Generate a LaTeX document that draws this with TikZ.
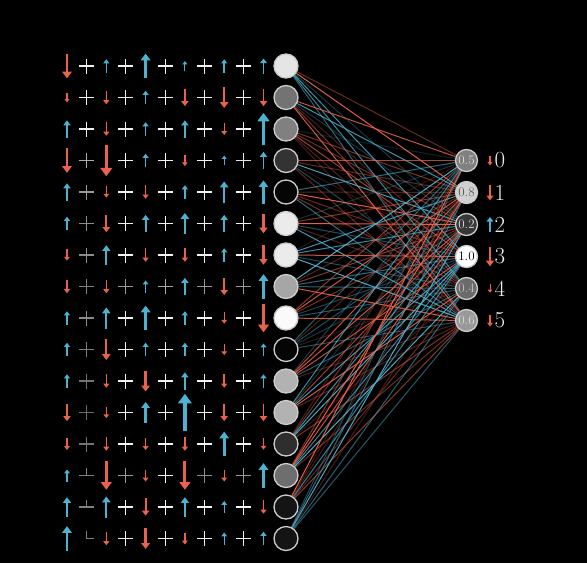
\documentclass[tikz,border=0pt]{standalone}
\usepackage{tikz}
\usetikzlibrary{arrows.meta}
\definecolor{spinred}{RGB}{232,98,76}
\definecolor{spinblue}{RGB}{76,178,207}
\tikzstyle{neuron} = [circle, draw=white!80!black, line width=1.3pt, minimum size=24pt, inner sep=0pt]
\tikzstyle{outneuron} = [neuron, minimum size=22pt, font=\fontsize{13}{13}\selectfont]
\tikzstyle{digit} = [text=white!92!black, font=\fontsize{23}{23}\selectfont, inner sep=0pt]
\tikzstyle{cross} = [line width=1.15pt]
\tikzstyle{wire} = [line width=1pt]
\pgfdeclarelayer{bg}
\pgfdeclarelayer{wires}
\pgfsetlayers{bg,wires,main}
\newcommand{\spinarrow}[3]{%
  \pgfmathsetmacro{\spinabs}{abs(#3)}%
  \pgfmathsetmacro{\spinlen}{3+3.75*\spinabs}%
  \pgfmathsetmacro{\spinwd}{0.7+0.8*\spinabs}%
  \pgfmathsetmacro{\tiplen}{2.5+1.7*\spinabs}%
  \pgfmathsetmacro{\tipwd}{3.8+2.3*\spinabs}%
  \ifdim #3pt>0pt
    \draw[spinblue, line width=\spinwd pt, -{Triangle[length=\tiplen pt, width=\tipwd pt]}] (#1,#2+\spinlen) -- (#1,#2-\spinlen);
  \else
    \draw[spinred, line width=\spinwd pt, -{Triangle[length=\tiplen pt, width=\tipwd pt]}] (#1,#2-\spinlen) -- (#1,#2+\spinlen);
  \fi}
\begin{document}
\begin{tikzpicture}[x=1pt, y=-1pt, node distance=31.5pt]
    \begin{pgfonlayer}{bg}
        \fill[black] (0,0) rectangle (587,563);
    \end{pgfonlayer}

    \node (in1) [neuron, fill=white!90!black] at (286,66) {};
    \foreach \g [count=\i from 2] in {45,50,20,2,92,92,65,98,2,70,70,18,43,8,8} {
        \pgfmathtruncatemacro{\p}{\i-1}
        \node (in\i) [neuron, fill=white!\g!black, below of=in\p] {};
    }

    \begin{scope}[node distance=32pt]
        \node (out0) [outneuron, fill=white!50!black, text=white!85!black] at (466.5,160.5) {0.5};
        \node (out1) [outneuron, fill=white!82!black, text=black!65, below of=out0] {0.8};
        \node (out2) [outneuron, fill=white!22!black, text=white!85!black, below of=out1] {0.2};
        \node (out3) [outneuron, fill=white, text=black, below of=out2] {1.0};
        \node (out4) [outneuron, fill=white!42!black, text=white!75!black, below of=out3] {0.4};
        \node (out5) [outneuron, fill=white!60!black, text=white!85!black, below of=out4] {0.6};
    \end{scope}

    \foreach \m [count=\j from 0] in {-0.5,-1.3,1.2,-1.8,-0.3,-0.8} {
        \spinarrow{490}{160.5+32*\j}{\m}
        \node (d\j) [digit, right of=out\j, node distance=33.5pt] {\j};
    }

    \foreach \r/\spins/\grays in {
        1/{-2.5,1,2.5,0.5,1,1.2}/{95,95,95,95,95},
        2/{-0.5,-1,1,-1.5,-2,-1.5}/{95,95,95,95,95},
        3/{1.5,-1,1,1.5,-0.8,3.5}/{95,95,95,95,95},
        4/{-2.5,-3.4,1,-0.7,0.5,1.5}/{68,95,95,95,90},
        5/{1.5,-0.7,-1,1,2,2.3}/{60,95,95,95,95},
        6/{1,-1.5,1.5,2,1.5,-1.8}/{55,95,95,95,95},
        7/{-0.7,1.8,-1,-1,1,-1.8}/{55,95,95,95,95},
        8/{-1,-1,0.8,1.5,-1.5,2.5}/{50,60,65,60,60},
        9/{1,2,2.5,1,-0.7,-3}/{55,95,95,95,95},
        10/{1,-2,1,1,-0.7,0.8}/{50,95,95,95,95},
        11/{1,-1,-2,1.5,-1,1}/{45,95,95,95,95},
        12/{-1.5,-0.7,2,4.2,-1.5,-1.5}/{42,95,95,95,95},
        13/{-0.8,-1,-0.8,-1,2.5,-0.7}/{45,95,95,95,95},
        14/{0.8,-3,-0.8,-3,-0.8,2.5}/{0,60,95,55,60},
        15/{1.8,2,-1.5,1.8,0.8,-1}/{0,95,95,95,95},
        16/{2.5,-1,-2,-0.8,0.8,1}/{0,95,95,95,95}} {
        \pgfmathsetmacro{\ry}{66+31.5*(\r-1)}
        \foreach \m [count=\k] in \spins {
            \pgfmathsetmacro{\ax}{67+39.3*(\k-1)}
            \spinarrow{\ax}{\ry}{\m}
        }
        \foreach \g [count=\k] in \grays {
            \ifnum\g>0
                \pgfmathsetmacro{\px}{86.6+39.3*(\k-1)}
                \draw[cross, white!\g!black] (\px-7.5,\ry) -- (\px+7.5,\ry) (\px,\ry-7.5) -- (\px,\ry+7.5);
            \fi
        }
    }
    \draw[cross, white!50!black] (79.1,475.5) -- (94.1,475.5) (86.6,468) -- (86.6,475.5);
    \draw[cross, white!50!black] (79.1,507) -- (94.1,507) (86.6,499.5) -- (86.6,507);
    \draw[cross, white!50!black] (86.6,531) -- (86.6,538.5) -- (94.1,538.5);

    \begin{pgfonlayer}{wires}
        \pgfmathsetseed{42}
        \foreach \i in {1,...,16}
            \foreach \j in {0,...,5} {
                \pgfmathsetmacro{\pick}{rnd}
                \pgfmathsetmacro{\op}{0.18+0.8*rnd}
                \ifdim\pick pt<0.5pt \def\wc{spinred}\else\def\wc{spinblue}\fi
                \draw[wire, draw=\wc, draw opacity=\op] (in\i) -- (out\j);
            }
    \end{pgfonlayer}
\end{tikzpicture}
\end{document}
